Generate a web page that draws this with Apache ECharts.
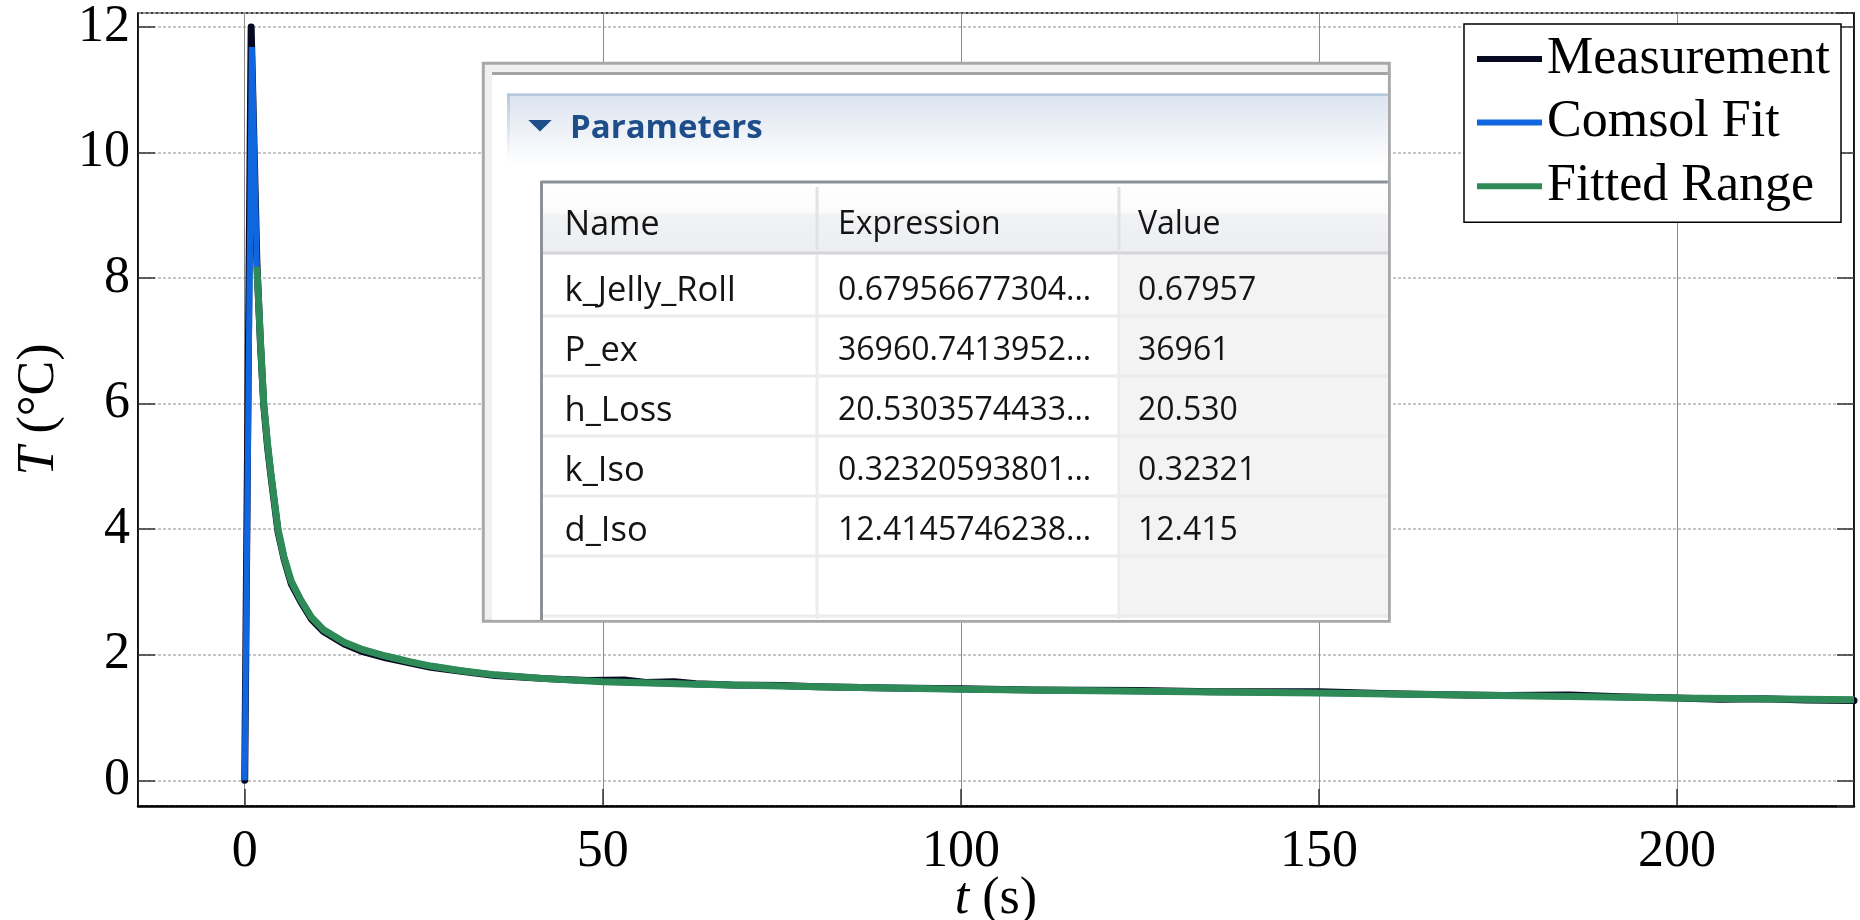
<!DOCTYPE html>
<html>
<head>
<meta charset="utf-8">
<script src="https://cdn.jsdelivr.net/npm/echarts@6/dist/echarts.min.js"></script>
<style>
  html, body { margin: 0; padding: 0; background: #fff; }
  #chart { width: 1860px; height: 920px; }
</style>
</head>
<body>
<div id="chart"></div>
<script>
// measured temperature rise (t in s, T in °C)
var measTime = [0, 0.9, 1.7, 2.2, 2.66, 3.2, 3.65, 4.65, 5.5, 6.5, 7.8, 9.3, 11, 13.9, 16.5, 19.7, 23, 26, 30, 35, 42, 48, 53, 56, 60, 63, 68, 75, 80, 90, 100, 110, 125, 135, 150, 160, 170, 176, 185, 192, 200, 206, 212, 218, 224.7];
var measTemp = [0, 12.0, 8.25, 6.95, 5.97, 5.3, 4.86, 3.96, 3.52, 3.13, 2.85, 2.57, 2.37, 2.17, 2.05, 1.95, 1.87, 1.8, 1.74, 1.67, 1.62, 1.59, 1.6, 1.56, 1.57, 1.54, 1.52, 1.51, 1.49, 1.47, 1.46, 1.44, 1.43, 1.41, 1.41, 1.38, 1.36, 1.35, 1.36, 1.33, 1.31, 1.29, 1.3, 1.28, 1.27];

// comsol fit
var fitTime = [0, 1.0, 1.7, 2.2, 2.66, 3.2, 3.65, 4.65, 5.5, 6.5, 7.8, 9.3, 11, 13.9, 16.5, 19.7, 23, 26, 30, 35, 42, 50, 63, 80, 100, 125, 150, 175, 200, 224.7];
var fitTemp = [0, 11.68, 8.18, 7.0, 6.0, 5.35, 4.9, 4.0, 3.55, 3.17, 2.88, 2.6, 2.4, 2.2, 2.08, 1.98, 1.89, 1.82, 1.75, 1.68, 1.62, 1.57, 1.53, 1.49, 1.45, 1.42, 1.39, 1.35, 1.31, 1.285];

// part of the fit used for fitting
var rangeTime = [1.7, 2.2, 2.66, 3.2, 3.65, 4.65, 5.5, 6.5, 7.8, 9.3, 11, 13.9, 16.5, 19.7, 23, 26, 30, 35, 42, 50, 63, 80, 100, 125, 150, 175, 200, 224.7];
var rangeTemp = [8.18, 7.0, 6.0, 5.35, 4.9, 4.0, 3.55, 3.17, 2.88, 2.6, 2.4, 2.2, 2.08, 1.98, 1.89, 1.82, 1.75, 1.68, 1.62, 1.57, 1.53, 1.49, 1.45, 1.42, 1.39, 1.35, 1.31, 1.285];

var seriesNames = ['Measurement', 'Comsol Fit', 'Fitted Range'];

// parameter table (screenshot inset)
var paramHeader = ['Name', 'Expression', 'Value'];
var paramNames = ['k_Jelly_Roll', 'P_ex', 'h_Loss', 'k_Iso', 'd_Iso'];
var paramExpr = ['0.67956677304...', '36960.7413952...', '20.5303574433...', '0.32320593801...', '12.4145746238...'];
var paramValues = ['0.67957', '36961', '20.530', '0.32321', '12.415'];

function pairs(xs, ys) {
    var out = [];
    for (var i = 0; i < xs.length; i++) out.push([xs[i], ys[i]]);
    return out;
}

var serif = 'Liberation Serif';
var ui = 'Open Sans';

// inset panel
var panel = [];
var Z = 50;
panel.push({ type: 'rect', z: Z, shape: { x: 483.3, y: 63.3, width: 906, height: 558 },
    style: { fill: '#f0f0f0', stroke: '#a8a8a8', lineWidth: 3 } });
panel.push({ type: 'rect', z: Z, shape: { x: 492, y: 75, width: 895.8, height: 544.8 }, style: { fill: '#fff' } });
panel.push({ type: 'line', z: Z, shape: { x1: 492, y1: 73.6, x2: 1387.8, y2: 73.6 }, style: { stroke: '#a3a3a3', lineWidth: 3 } });
// "Parameters" section header
panel.push({ type: 'rect', z: Z, shape: { x: 507, y: 93.5, width: 880.8, height: 72 },
    style: { fill: new echarts.graphic.LinearGradient(0, 0, 0, 1, [
        { offset: 0, color: '#dbe3ee' }, { offset: 1, color: '#ffffff' }]) } });
panel.push({ type: 'rect', z: Z, shape: { x: 507, y: 93.5, width: 880.8, height: 2.5 }, style: { fill: '#b7c8dc' } });
panel.push({ type: 'rect', z: Z, shape: { x: 507, y: 93.5, width: 3, height: 68 },
    style: { fill: new echarts.graphic.LinearGradient(0, 0, 0, 1, [
        { offset: 0, color: '#b7c8dc' }, { offset: 1, color: '#ffffff' }]) } });
panel.push({ type: 'polygon', z: Z, shape: { points: [[528.3, 120], [551.7, 120], [540, 131.5]] }, style: { fill: '#1d4e89' } });
panel.push({ type: 'text', z: Z, style: { text: 'Parameters', x: 570, y: 129, font: 'bold 33px "' + ui + '"',
    fill: '#1d4e89', textAlign: 'left', textVerticalAlign: 'middle', align: 'left', verticalAlign: 'middle' } });
// table
panel.push({ type: 'rect', z: Z, shape: { x: 541, y: 181, width: 846.8, height: 438.8 }, style: { fill: '#fff' } });
panel.push({ type: 'rect', z: Z, shape: { x: 543, y: 183, width: 844.8, height: 70 },
    style: { fill: new echarts.graphic.LinearGradient(0, 0, 0, 1, [
        { offset: 0, color: '#ffffff' }, { offset: 0.42, color: '#fbfbfc' },
        { offset: 0.46, color: '#f1f2f4' }, { offset: 1, color: '#eceef1' }]) } });
panel.push({ type: 'rect', z: Z, shape: { x: 1121, y: 254, width: 266.8, height: 364 }, style: { fill: '#f3f3f3' } });
panel.push({ type: 'line', z: Z, shape: { x1: 543, y1: 253, x2: 1387.8, y2: 253 }, style: { stroke: '#d5d6d8', lineWidth: 3 } });
var rowLines = [316, 376, 436, 496, 556, 616];
rowLines.forEach(function (y) {
    panel.push({ type: 'line', z: Z, shape: { x1: 543, y1: y, x2: 1387.8, y2: y }, style: { stroke: '#ececec', lineWidth: 3 } });
});
[817, 1119].forEach(function (x) {
    panel.push({ type: 'line', z: Z, shape: { x1: x, y1: 187, x2: x, y2: 250 }, style: { stroke: '#e2e2e2', lineWidth: 3 } });
    panel.push({ type: 'line', z: Z, shape: { x1: x, y1: 255, x2: x, y2: 619 }, style: { stroke: '#ececec', lineWidth: 3 } });
});
panel.push({ type: 'line', z: Z, shape: { x1: 541, y1: 182, x2: 1387.8, y2: 182 }, style: { stroke: '#8c9198', lineWidth: 3 } });
panel.push({ type: 'line', z: Z, shape: { x1: 541.5, y1: 181, x2: 541.5, y2: 620 }, style: { stroke: '#8c9198', lineWidth: 3 } });

var colX = [564.6, 838, 1138];
function cellText(txt, x, y, size) {
    return { type: 'text', z: Z + 1, style: { text: txt, x: x, y: y, font: size + 'px "' + ui + '"', fill: '#141414',
        textAlign: 'left', textVerticalAlign: 'middle', align: 'left', verticalAlign: 'middle' } };
}
paramHeader.forEach(function (h, i) { panel.push(cellText(h, colX[i], 225, i === 0 ? 34 : 32)); });
var rowMid = [291, 351, 411, 471, 531];
paramNames.forEach(function (n, i) {
    panel.push(cellText(n, colX[0], rowMid[i], 34.5));
    panel.push(cellText(paramExpr[i], colX[1], rowMid[i], 32));
    panel.push(cellText(paramValues[i], colX[2], rowMid[i], 32));
});

var chart = echarts.init(document.getElementById('chart'), null, { renderer: 'canvas' });

var tickStyle = { show: true, inside: true, length: 17, lineStyle: { color: '#333', width: 1.5 } };

var option = {
    backgroundColor: '#fff',
    animation: false,
    grid: { left: 138, right: 6, top: 13, bottom: 114, show: true, borderColor: '#000', borderWidth: 1.5,
        containLabel: false, outerBoundsMode: 'none' },
    legend: {
        orient: 'vertical',
        left: 1464, top: 24,
        padding: [9, 11, 10, 13],
        itemWidth: 65, itemHeight: 6, itemGap: 11.6,
        icon: 'rect',
        backgroundColor: '#fff',
        borderColor: '#000', borderWidth: 1.5,
        textStyle: { fontFamily: serif, fontSize: 52, color: '#000' },
        data: seriesNames,
        z: 60
    },
    xAxis: {
        type: 'value',
        min: -14.9, max: 224.7,
        splitNumber: 5,
        axisLine: { show: true, onZero: false, lineStyle: { color: '#000', width: 2.5 } },
        axisTick: tickStyle,
        axisLabel: { margin: 20, fontFamily: serif, fontSize: 52, color: '#000', showMinLabel: false, showMaxLabel: false },
        splitLine: { show: true, lineStyle: { color: '#8a8a8a', width: 1 } },
        name: '{i|t} (s)',
        nameLocation: 'middle',
        nameGap: 67,
        nameMoveOverlap: false,
        nameTextStyle: { fontFamily: serif, fontSize: 52, color: '#000',
            rich: { i: { fontFamily: serif, fontSize: 52, fontStyle: 'italic', color: '#000' } } }
    },
    yAxis: [{
        type: 'value',
        min: -0.409, max: 12.223,
        splitNumber: 6,
        axisLine: { show: true, onZero: false, lineStyle: { color: '#000', width: 1.5 } },
        axisTick: tickStyle,
        axisLabel: { margin: 8, fontFamily: serif, fontSize: 52, color: '#000', showMinLabel: false, showMaxLabel: false },
        splitLine: { show: true, lineStyle: { color: '#b4b4b4', width: 1.5, type: [3, 2] } },
        name: '{i|T} (°C)',
        nameLocation: 'middle',
        nameGap: 73,
        nameMoveOverlap: false,
        nameTextStyle: { fontFamily: serif, fontSize: 52, color: '#000',
            rich: { i: { fontFamily: serif, fontSize: 52, fontStyle: 'italic', color: '#000' } } }
    }, {
        type: 'value',
        position: 'right',
        min: -0.409, max: 12.223,
        splitNumber: 6,
        axisLine: { show: true, onZero: false, lineStyle: { color: '#000', width: 1.5 } },
        axisTick: tickStyle,
        axisLabel: { show: false },
        splitLine: { show: false }
    }],
    series: [{
        name: seriesNames[0],
        type: 'line',
        data: pairs(measTime, measTemp),
        showSymbol: false,
        color: '#06091f',
        lineStyle: { width: 7, color: '#06091f', join: 'round', cap: 'round' },
        z: 2
    }, {
        name: seriesNames[1],
        type: 'line',
        data: pairs(fitTime, fitTemp),
        showSymbol: false,
        color: '#1066de',
        lineStyle: { width: 6, color: '#1066de' },
        z: 3
    }, {
        name: seriesNames[2],
        type: 'line',
        data: pairs(rangeTime, rangeTemp),
        showSymbol: false,
        color: '#2e8b58',
        lineStyle: { width: 7, color: '#2e8b58' },
        z: 4
    }],
    graphic: { elements: panel }
};

chart.setOption(option);
</script>
</body>
</html>
